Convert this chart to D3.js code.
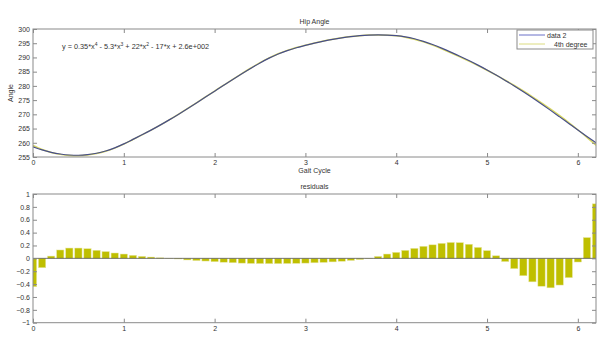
<!DOCTYPE html>
<html>
<head>
<meta charset="utf-8">
<script src="https://cdn.jsdelivr.net/npm/d3@7/dist/d3.min.js"></script>
<style>
html,body{margin:0;padding:0;background:#fff;}
svg{display:block;font-family:"Liberation Sans",Arial,sans-serif;}
</style>
</head>
<body>
<svg id="chart" width="607" height="339"></svg>
<script>
// ---- data ----
const gaitCycle = [0.0,0.1,0.2,0.3,0.4,0.5,0.6,0.7,0.8,0.9,1.0,1.1,1.2,1.3,1.4,1.5,1.6,1.7,1.8,1.9,2.0,2.1,2.2,2.3,2.4,2.5,2.6,2.7,2.8,2.9,3.0,3.1,3.2,3.3,3.4,3.5,3.6,3.7,3.8,3.9,4.0,4.1,4.2,4.3,4.4,4.5,4.6,4.7,4.8,4.9,5.0,5.1,5.2,5.3,5.4,5.5,5.6,5.7,5.8,5.9,6.0,6.1,6.2];
const hipAngle = [258.6,257.5,256.65,256.05,255.7,255.62,255.82,256.32,257.12,258.22,259.6,261.2,262.8,264.45,266.2,268.05,269.98,271.97,274.0,276.06,278.13,280.2,282.25,284.26,286.21,288.07,289.75,291.2,292.4,293.4,294.22,295.02,295.74,296.37,296.9,297.33,297.65,297.85,297.93,297.88,297.68,297.26,296.58,295.66,294.54,293.26,291.88,290.43,288.91,287.31,285.61,283.81,281.93,279.97,277.93,275.81,273.63,271.39,269.11,266.81,264.51,262.23,259.99];
const residuals = [-0.44,-0.145,0.035,0.13,0.16,0.16,0.15,0.125,0.105,0.083,0.067,0.047,0.031,0.02,0.008,0.002,-0.01,-0.025,-0.035,-0.042,-0.052,-0.06,-0.068,-0.074,-0.079,-0.081,-0.082,-0.082,-0.08,-0.078,-0.074,-0.069,-0.063,-0.055,-0.045,-0.033,-0.019,-0.004,0.03,0.067,0.093,0.124,0.155,0.187,0.21,0.233,0.247,0.244,0.219,0.17,0.12,0.04,-0.05,-0.16,-0.27,-0.365,-0.433,-0.458,-0.415,-0.3,-0.057,0.323,0.847];
const xTicks = [0,1,2,3,4,5,6];
const angleTicks = [255,260,265,270,275,280,285,290,295,300];
const residTicks = [-1,-0.8,-0.6,-0.4,-0.2,0,0.2,0.4,0.6,0.8,1];
const legendLabels = ["data 2","4th degree"];

// ---- layout ----
const svg = d3.select("#chart");
const L = 33, R = 596;
const top1 = 29, bot1 = 157, top2 = 194, bot2 = 322.7;
const axisColor = "#8a8a8a", textColor = "#333";
const fs = 7;

const x = d3.scaleLinear().domain([0,6.2]).range([L,R]);
const yA = d3.scaleLinear().domain([255,300]).range([bot1,top1]);
const yR = d3.scaleLinear().domain([-1,1]).range([bot2,top2]);

const defs = svg.append("defs");
defs.append("clipPath").attr("id","c1").append("rect").attr("x",L).attr("y",top1).attr("width",R-L).attr("height",bot1-top1);
defs.append("clipPath").attr("id","c2").append("rect").attr("x",L).attr("y",top2).attr("width",R-L).attr("height",bot2-top2);

function drawAxes(y, yt, t, b, fmt){
  const g = svg.append("g");
  g.append("g").attr("transform",`translate(0,${b})`)
    .call(d3.axisBottom(x).tickValues(xTicks).tickSize(-4).tickPadding(3).tickFormat(d3.format("d")));
  g.append("g").attr("transform",`translate(0,${t})`)
    .call(d3.axisTop(x).tickValues(xTicks).tickSize(-4).tickFormat(""));
  g.append("g").attr("transform",`translate(${L},0)`)
    .call(d3.axisLeft(y).tickValues(yt).tickSize(-4).tickPadding(3).tickFormat(fmt));
  g.append("g").attr("transform",`translate(${R},0)`)
    .call(d3.axisRight(y).tickValues(yt).tickSize(-4).tickFormat(""));
  g.selectAll(".domain").remove();
  g.selectAll(".tick line").attr("stroke",axisColor);
  g.selectAll(".tick text").attr("fill",textColor).style("font-size",fs+"px").style("font-family","'Liberation Sans',Arial,sans-serif");
  g.append("rect").attr("x",L).attr("y",t).attr("width",R-L).attr("height",b-t)
    .attr("fill","none").attr("stroke",axisColor).attr("stroke-width",1);
}

// ---- top plot ----
const fitVals = hipAngle.map((v,i)=>v - residuals[i]);
const line = (arr)=>d3.line().x((d,i)=>x(gaitCycle[i])).y(d=>yA(d)).curve(d3.curveMonotoneX)(arr);

const g1 = svg.append("g").attr("clip-path","url(#c1)");
g1.append("path").attr("d",line(fitVals)).attr("fill","none").attr("stroke","#d8d860").attr("stroke-width",1.5);
g1.append("path").attr("d",line(hipAngle)).attr("fill","none").attr("stroke","#474e8a").attr("stroke-width",1.2);

drawAxes(yA, angleTicks, top1, bot1, d3.format("d"));

svg.append("text").attr("x",(L+R)/2).attr("y",24).attr("text-anchor","middle")
  .attr("fill",textColor).style("font-size",fs+"px").text("Hip Angle");
svg.append("text").attr("x",(L+R)/2).attr("y",173).attr("text-anchor","middle")
  .attr("fill",textColor).style("font-size",fs+"px").text("Gait Cycle");
svg.append("text").attr("transform",`translate(13,${(top1+bot1)/2}) rotate(-90)`).attr("text-anchor","middle")
  .attr("fill",textColor).style("font-size",fs+"px").text("Angle");

// equation
const eq = svg.append("text").attr("x",62).attr("y",49).attr("fill",textColor).style("font-size","7.3px");
const parts = [["y = 0.35*x",""],["4","sup"],[" - 5.3*x",""],["3","sup"],[" + 22*x",""],["2","sup"],[" - 17*x + 2.6e+002",""]];
parts.forEach((p,i)=>{
  const ts = eq.append("tspan").text(p[0]);
  if(p[1]==="sup"){ ts.attr("dy",-2.6).style("font-size","5px"); }
  else if(i>0){ ts.attr("dy",2.6); }
});

// legend
const lg = svg.append("g");
lg.append("rect").attr("x",517).attr("y",30).attr("width",76).attr("height",19)
  .attr("fill","#fff").attr("stroke",axisColor).attr("stroke-width",1);
lg.append("line").attr("x1",519).attr("x2",545).attr("y1",35).attr("y2",35).attr("stroke","#6a70c8").attr("stroke-width",1);
lg.append("line").attr("x1",519).attr("x2",545).attr("y1",44).attr("y2",44).attr("stroke","#dcdc80").attr("stroke-width",1);
lg.append("text").attr("x",547).attr("y",37.5).attr("fill",textColor).style("font-size",fs+"px").text(legendLabels[0]);
lg.append("text").attr("x",554).attr("y",46.5).attr("fill",textColor).style("font-size",fs+"px").text(legendLabels[1]);

// ---- bottom plot ----
const bw = (x(0.1)-x(0))*0.8;
const g2 = svg.append("g").attr("clip-path","url(#c2)");
g2.selectAll("rect.bar").data(residuals).enter().append("rect").attr("class","bar")
  .attr("x",(d,i)=>x(gaitCycle[i])-bw/2)
  .attr("width",bw)
  .attr("y",d=>Math.min(yR(d),yR(0)))
  .attr("height",d=>Math.abs(yR(d)-yR(0)))
  .attr("fill","#bfbf00").attr("stroke","#e6e6a0").attr("stroke-width",0.5);
g2.append("line").attr("x1",L).attr("x2",R).attr("y1",yR(0)).attr("y2",yR(0)).attr("stroke","#555").attr("stroke-width",0.8);

drawAxes(yR, residTicks, top2, bot2, d=> d===0 ? "0" : d3.format("")(d));

svg.append("text").attr("x",(L+R)/2).attr("y",189).attr("text-anchor","middle")
  .attr("fill",textColor).style("font-size",fs+"px").text("residuals");
</script>
</body>
</html>
